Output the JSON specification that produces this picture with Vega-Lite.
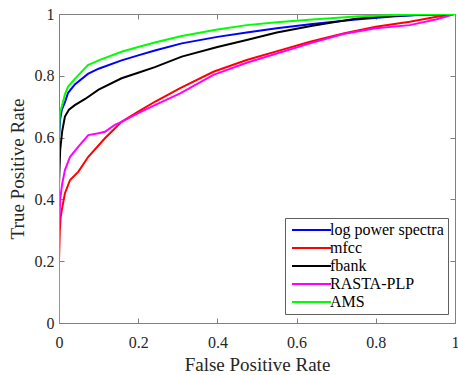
{
  "$schema": "https://vega.github.io/schema/vega-lite/v6.json",
  "width": 396,
  "height": 309,
  "autosize": {"type": "none"},
  "padding": {"left": 59, "top": 14, "right": 3, "bottom": 52},
  "background": "white",
  "config": {
    "font": "Liberation Serif",
    "style": {
      "guide-label": {"font": "Liberation Serif"},
      "guide-title": {"font": "Liberation Serif"}
    },
    "legend": {"labelFont": "Liberation Serif"},
    "view": {"stroke": "#808080", "strokeWidth": 1},
    "axis": {
      "grid": false,
      "labelFont": "Liberation Serif",
      "titleFont": "Liberation Serif",
      "labelFontSize": 16,
      "titleFontSize": 19,
      "titleFontWeight": "normal",
      "labelColor": "#262626",
      "titleColor": "#262626",
      "domainColor": "#808080",
      "tickColor": "#808080",
      "tickSize": -5,
      "labelFlush": false,
      "labelOverlap": false
    }
  },
  "data": {
    "values": [
      {"s": "log power spectra", "i": 0, "fpr": 0, "tpr": 0},
      {"s": "log power spectra", "i": 1, "fpr": 0, "tpr": 0.6},
      {"s": "log power spectra", "i": 2, "fpr": 0.003, "tpr": 0.66},
      {"s": "log power spectra", "i": 3, "fpr": 0.007, "tpr": 0.69},
      {"s": "log power spectra", "i": 4, "fpr": 0.015, "tpr": 0.715},
      {"s": "log power spectra", "i": 5, "fpr": 0.023, "tpr": 0.745},
      {"s": "log power spectra", "i": 6, "fpr": 0.04, "tpr": 0.772},
      {"s": "log power spectra", "i": 7, "fpr": 0.073, "tpr": 0.806},
      {"s": "log power spectra", "i": 8, "fpr": 0.1, "tpr": 0.823},
      {"s": "log power spectra", "i": 9, "fpr": 0.158, "tpr": 0.85},
      {"s": "log power spectra", "i": 10, "fpr": 0.2, "tpr": 0.866},
      {"s": "log power spectra", "i": 11, "fpr": 0.242, "tpr": 0.882},
      {"s": "log power spectra", "i": 12, "fpr": 0.31, "tpr": 0.905},
      {"s": "log power spectra", "i": 13, "fpr": 0.4, "tpr": 0.926},
      {"s": "log power spectra", "i": 14, "fpr": 0.474, "tpr": 0.94},
      {"s": "log power spectra", "i": 15, "fpr": 0.55, "tpr": 0.954},
      {"s": "log power spectra", "i": 16, "fpr": 0.64, "tpr": 0.968},
      {"s": "log power spectra", "i": 17, "fpr": 0.75, "tpr": 0.982},
      {"s": "log power spectra", "i": 18, "fpr": 0.85, "tpr": 0.993},
      {"s": "log power spectra", "i": 19, "fpr": 0.93, "tpr": 0.998},
      {"s": "log power spectra", "i": 20, "fpr": 1, "tpr": 1},

      {"s": "mfcc", "i": 0, "fpr": 0, "tpr": 0},
      {"s": "mfcc", "i": 1, "fpr": 0, "tpr": 0.2},
      {"s": "mfcc", "i": 2, "fpr": 0.002, "tpr": 0.3},
      {"s": "mfcc", "i": 3, "fpr": 0.004, "tpr": 0.34},
      {"s": "mfcc", "i": 4, "fpr": 0.007, "tpr": 0.366},
      {"s": "mfcc", "i": 5, "fpr": 0.015, "tpr": 0.42},
      {"s": "mfcc", "i": 6, "fpr": 0.028, "tpr": 0.463},
      {"s": "mfcc", "i": 7, "fpr": 0.049, "tpr": 0.49},
      {"s": "mfcc", "i": 8, "fpr": 0.074, "tpr": 0.538},
      {"s": "mfcc", "i": 9, "fpr": 0.116, "tpr": 0.598},
      {"s": "mfcc", "i": 10, "fpr": 0.158, "tpr": 0.651},
      {"s": "mfcc", "i": 11, "fpr": 0.2, "tpr": 0.684},
      {"s": "mfcc", "i": 12, "fpr": 0.242, "tpr": 0.716},
      {"s": "mfcc", "i": 13, "fpr": 0.306, "tpr": 0.76},
      {"s": "mfcc", "i": 14, "fpr": 0.39, "tpr": 0.813},
      {"s": "mfcc", "i": 15, "fpr": 0.474, "tpr": 0.851},
      {"s": "mfcc", "i": 16, "fpr": 0.56, "tpr": 0.883},
      {"s": "mfcc", "i": 17, "fpr": 0.634, "tpr": 0.91},
      {"s": "mfcc", "i": 18, "fpr": 0.718, "tpr": 0.937},
      {"s": "mfcc", "i": 19, "fpr": 0.8, "tpr": 0.959},
      {"s": "mfcc", "i": 20, "fpr": 0.886, "tpr": 0.975},
      {"s": "mfcc", "i": 21, "fpr": 0.954, "tpr": 0.991},
      {"s": "mfcc", "i": 22, "fpr": 1, "tpr": 1},

      {"s": "fbank", "i": 0, "fpr": 0, "tpr": 0},
      {"s": "fbank", "i": 1, "fpr": 0, "tpr": 0.45},
      {"s": "fbank", "i": 2, "fpr": 0.003, "tpr": 0.56},
      {"s": "fbank", "i": 3, "fpr": 0.008, "tpr": 0.62},
      {"s": "fbank", "i": 4, "fpr": 0.015, "tpr": 0.668},
      {"s": "fbank", "i": 5, "fpr": 0.025, "tpr": 0.69},
      {"s": "fbank", "i": 6, "fpr": 0.04, "tpr": 0.705},
      {"s": "fbank", "i": 7, "fpr": 0.066, "tpr": 0.725},
      {"s": "fbank", "i": 8, "fpr": 0.1, "tpr": 0.755},
      {"s": "fbank", "i": 9, "fpr": 0.158, "tpr": 0.792},
      {"s": "fbank", "i": 10, "fpr": 0.2, "tpr": 0.81},
      {"s": "fbank", "i": 11, "fpr": 0.242, "tpr": 0.828},
      {"s": "fbank", "i": 12, "fpr": 0.31, "tpr": 0.862},
      {"s": "fbank", "i": 13, "fpr": 0.4, "tpr": 0.893},
      {"s": "fbank", "i": 14, "fpr": 0.474, "tpr": 0.916},
      {"s": "fbank", "i": 15, "fpr": 0.55, "tpr": 0.94},
      {"s": "fbank", "i": 16, "fpr": 0.64, "tpr": 0.962},
      {"s": "fbank", "i": 17, "fpr": 0.75, "tpr": 0.985},
      {"s": "fbank", "i": 18, "fpr": 0.85, "tpr": 0.995},
      {"s": "fbank", "i": 19, "fpr": 1, "tpr": 1},

      {"s": "RASTA-PLP", "i": 0, "fpr": 0, "tpr": 0},
      {"s": "RASTA-PLP", "i": 1, "fpr": 0, "tpr": 0.3},
      {"s": "RASTA-PLP", "i": 2, "fpr": 0.003, "tpr": 0.4},
      {"s": "RASTA-PLP", "i": 3, "fpr": 0.008, "tpr": 0.45},
      {"s": "RASTA-PLP", "i": 4, "fpr": 0.015, "tpr": 0.495},
      {"s": "RASTA-PLP", "i": 5, "fpr": 0.028, "tpr": 0.538},
      {"s": "RASTA-PLP", "i": 6, "fpr": 0.049, "tpr": 0.571},
      {"s": "RASTA-PLP", "i": 7, "fpr": 0.074, "tpr": 0.608},
      {"s": "RASTA-PLP", "i": 8, "fpr": 0.1, "tpr": 0.614},
      {"s": "RASTA-PLP", "i": 9, "fpr": 0.116, "tpr": 0.619},
      {"s": "RASTA-PLP", "i": 10, "fpr": 0.141, "tpr": 0.641},
      {"s": "RASTA-PLP", "i": 11, "fpr": 0.158, "tpr": 0.651},
      {"s": "RASTA-PLP", "i": 12, "fpr": 0.2, "tpr": 0.679},
      {"s": "RASTA-PLP", "i": 13, "fpr": 0.242, "tpr": 0.705},
      {"s": "RASTA-PLP", "i": 14, "fpr": 0.306, "tpr": 0.743},
      {"s": "RASTA-PLP", "i": 15, "fpr": 0.39, "tpr": 0.803},
      {"s": "RASTA-PLP", "i": 16, "fpr": 0.474, "tpr": 0.842},
      {"s": "RASTA-PLP", "i": 17, "fpr": 0.56, "tpr": 0.876},
      {"s": "RASTA-PLP", "i": 18, "fpr": 0.634, "tpr": 0.905},
      {"s": "RASTA-PLP", "i": 19, "fpr": 0.718, "tpr": 0.935},
      {"s": "RASTA-PLP", "i": 20, "fpr": 0.8, "tpr": 0.954},
      {"s": "RASTA-PLP", "i": 21, "fpr": 0.886, "tpr": 0.964},
      {"s": "RASTA-PLP", "i": 22, "fpr": 0.954, "tpr": 0.983},
      {"s": "RASTA-PLP", "i": 23, "fpr": 1, "tpr": 1},

      {"s": "AMS", "i": 0, "fpr": 0, "tpr": 0},
      {"s": "AMS", "i": 1, "fpr": 0, "tpr": 0.6},
      {"s": "AMS", "i": 2, "fpr": 0.002, "tpr": 0.68},
      {"s": "AMS", "i": 3, "fpr": 0.007, "tpr": 0.7},
      {"s": "AMS", "i": 4, "fpr": 0.015, "tpr": 0.74},
      {"s": "AMS", "i": 5, "fpr": 0.023, "tpr": 0.765},
      {"s": "AMS", "i": 6, "fpr": 0.04, "tpr": 0.79},
      {"s": "AMS", "i": 7, "fpr": 0.073, "tpr": 0.835},
      {"s": "AMS", "i": 8, "fpr": 0.1, "tpr": 0.85},
      {"s": "AMS", "i": 9, "fpr": 0.158, "tpr": 0.878},
      {"s": "AMS", "i": 10, "fpr": 0.2, "tpr": 0.893},
      {"s": "AMS", "i": 11, "fpr": 0.242, "tpr": 0.908},
      {"s": "AMS", "i": 12, "fpr": 0.31, "tpr": 0.929},
      {"s": "AMS", "i": 13, "fpr": 0.4, "tpr": 0.95},
      {"s": "AMS", "i": 14, "fpr": 0.474, "tpr": 0.964},
      {"s": "AMS", "i": 15, "fpr": 0.55, "tpr": 0.973},
      {"s": "AMS", "i": 16, "fpr": 0.64, "tpr": 0.982},
      {"s": "AMS", "i": 17, "fpr": 0.75, "tpr": 0.992},
      {"s": "AMS", "i": 18, "fpr": 0.85, "tpr": 0.997},
      {"s": "AMS", "i": 19, "fpr": 1, "tpr": 1}
    ]
  },
  "layer": [
    {
      "mark": {"type": "line", "strokeWidth": 2, "clip": true},
      "encoding": {
        "x": {
          "field": "fpr", "type": "quantitative",
          "scale": {"domain": [0, 1], "nice": false, "zero": false},
          "axis": {"orient": "bottom", "title": "False Positive Rate", "values": [0, 0.2, 0.4, 0.6, 0.8, 1], "format": "~g", "labelFont": "Liberation Serif", "titleFont": "Liberation Serif", "labelPadding": 16, "titlePadding": 5}
        },
        "y": {
          "field": "tpr", "type": "quantitative",
          "scale": {"domain": [0, 1], "nice": false, "zero": false},
          "axis": {"orient": "left", "title": "True Positive Rate", "values": [0, 0.2, 0.4, 0.6, 0.8, 1], "format": "~g", "labelFont": "Liberation Serif", "titleFont": "Liberation Serif", "labelPadding": 10, "titlePadding": 7}
        },
        "color": {
          "field": "s", "type": "nominal",
          "scale": {
            "domain": ["log power spectra", "mfcc", "fbank", "RASTA-PLP", "AMS"],
            "range": ["#0000ff", "#ff0000", "#000000", "#ff00ff", "#00ff00"]
          },
          "legend": {
            "title": null,
            "orient": "none",
            "legendX": 226,
            "legendY": 204,
            "symbolType": "M-1,0H6.8",
            "symbolSize": 100,
            "symbolStrokeWidth": 2,
            "labelFont": "Liberation Serif",
            "labelFontSize": 16,
            "labelColor": "#000000",
            "labelOffset": 25,
            "rowPadding": 2,
            "padding": 4,
            "strokeColor": "#606060",
            "fillColor": "white",
            "labelLimit": 300
          }
        },
        "order": {"field": "i", "type": "quantitative"}
      }
    },
    {
      "mark": {"type": "line", "opacity": 0},
      "encoding": {
        "x": {"field": "fpr", "type": "quantitative", "axis": {"orient": "top", "title": null, "labels": false, "domain": false, "values": [0, 0.2, 0.4, 0.6, 0.8, 1]}},
        "y": {"field": "tpr", "type": "quantitative", "axis": {"orient": "right", "title": null, "labels": false, "domain": false, "values": [0, 0.2, 0.4, 0.6, 0.8, 1]}}
      }
    }
  ],
  "resolve": {"axis": {"x": "independent", "y": "independent"}}
}
